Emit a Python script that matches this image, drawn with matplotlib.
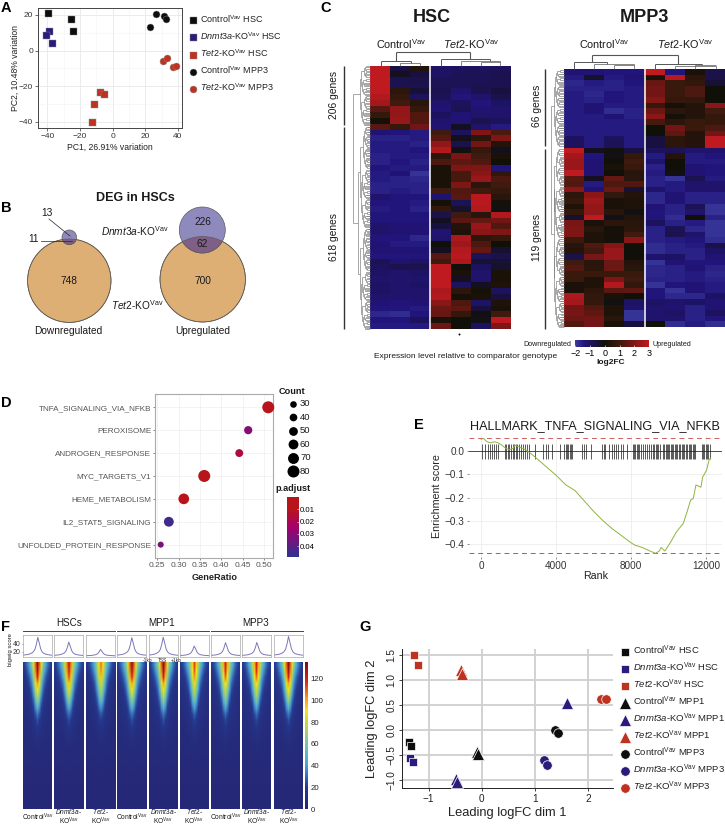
import numpy as np
import matplotlib
matplotlib.use("Agg")
import matplotlib.pyplot as plt
from matplotlib.patches import Circle
from matplotlib.collections import LineCollection
from matplotlib.colors import LinearSegmentedColormap, Normalize
from matplotlib.cm import ScalarMappable

plt.rcParams.update({
    "font.family": ["Liberation Sans", "DejaVu Sans"],
    "mathtext.fontset": "custom",
    "mathtext.rm": "Liberation Sans",
    "mathtext.it": "Liberation Sans:italic",
    "mathtext.bf": "Liberation Sans:bold",
    "axes.linewidth": 0.7,
    "xtick.major.width": 0.5, "ytick.major.width": 0.5,
    "xtick.major.size": 2, "ytick.major.size": 2,
    "xtick.major.pad": 1.5, "ytick.major.pad": 1.5,
})

W, H = 725, 826
BLACK, BLUE, RED = "#0d0d0d", "#2b1b7c", "#bd3320"
CTRL = r"Control$^{\mathrm{Vav}}$"
DN = r"$\mathit{Dnmt3a}$-KO$^{\mathrm{Vav}}$"
TET = r"$\mathit{Tet2}$-KO$^{\mathrm{Vav}}$"

# ---- Panel A data
a_ctrl_hsc = ([-39.5, -25.5, -24.5], [21, 18, 11])
a_dn_hsc = ([-39, -40.5, -37], [11, 9, 4])
a_tet_hsc = ([-8, -5, -11.5, -12.5], [-23.5, -24.5, -30, -40])
a_ctrl_mpp3 = ([26.5, 31.5, 32.5, 23], [20.5, 19.5, 18, 13])
a_tet_mpp3 = ([31, 33.5, 37, 39], [-6, -4, -9, -8.5])

# ---- Panel B data
venn_down = ["13", "11", "748"]
venn_up = ["226", "62", "700"]

# ---- Panel C data
hsc_rows = [
    [3, -0.6, 0.4, -1.1, -1.0, -1.0, -1.0],
    [3, -0.3, -0.6, -1.1, -0.9, -0.9, -0.8],
    [3, -0.8, -0.7, -0.9, -0.9, -0.9, -0.8],
    [3, -0.8, -0.8, -0.9, -0.9, -0.8, -0.8],
    [3, 0.6, -0.5, -0.8, -1.2, -0.8, -0.6],
    [2.8, 0.8, -1.0, -0.9, -1.4, -1.2, -0.7],
    [2.6, 1.0, 0.5, -1.2, -1.0, -1.4, -1.1],
    [1.4, 2.3, 0.8, -1.3, -0.9, -1.3, -1.2],
    [0.8, 2.3, 1.3, -1.0, -1.3, -1.2, -1.2],
    [0.1, 2.4, 1.3, -1.2, -1.3, -0.8, -1.0],
    [1.4, 0.8, 1.8, -1.3, -0.3, -1.2, -1.5],
    [-1.3, -1.4, -1.5, 1.0, -1.0, 2.0, 1.2],
    [-1.6, -1.6, -1.5, 1.4, -0.2, 0.6, 2.0],
    [-1.5, -1.5, -1.6, 2.3, -0.7, 1.8, 0.4],
    [-1.5, -1.5, -1.4, 2.8, -0.1, 0.8, -0.2],
    [-1.6, -1.5, -1.5, 0.6, 1.9, 1.0, 0.2],
    [-1.6, -1.4, -1.6, 1.2, 1.5, 1.3, 0.0],
    [-1.4, -1.5, -1.5, 0.2, 2.0, 2.0, -1.4],
    [-1.5, -1.3, -1.9, 0.2, 1.1, 2.2, 0.7],
    [-1.5, -1.6, -1.7, 0.2, 1.1, 2.4, 1.2],
    [-1.6, -1.6, -1.6, 0.2, 2.0, 0.6, 1.0],
    [-1.6, -1.5, -1.6, 1.0, 1.3, 1.0, 0.8],
    [-1.2, -1.4, -1.4, -1.2, 1.4, 2.9, 0.5],
    [-1.4, -1.4, -1.5, 0.1, -0.9, 2.9, 0.1],
    [-1.5, -1.4, -1.6, 0.7, -0.4, 2.8, -0.1],
    [-1.4, -1.4, -1.4, -0.7, 1.0, 0.5, 2.8],
    [-1.4, -1.4, -1.4, -0.3, 1.4, 1.6, 1.8],
    [-1.2, -1.3, -1.3, -0.6, 0.4, 2.4, 1.3],
    [-1.2, -1.3, -1.3, -1.3, 0.3, 2.2, 2.0],
    [-1.4, -1.4, -1.7, -1.2, 2.7, 0.6, 0.8],
    [-1.3, -1.5, -1.5, 0.0, 2.5, 1.2, 0.0],
    [-1.3, -1.3, -1.3, -0.3, 2.8, 1.6, -0.4],
    [-1.4, -1.4, -1.4, 1.4, 2.9, -0.9, -0.7],
    [-0.9, -1.2, -1.1, 1.0, 2.7, -0.5, -0.5],
    [-1.0, -0.8, -0.8, 3, 0, -1.0, -0.4],
    [-1.1, -1.2, -1.1, 3, 0.2, -1.2, 0.2],
    [-1.2, -1.2, -1.2, 3, -0.3, -1.2, 0.2],
    [-1.1, -1.2, -1.1, 3, -1.0, -0.3, 0.3],
    [-1.1, -1.2, -1.2, 2.7, 0.6, 0.1, -1.0],
    [-1.2, -1.2, -1.2, 2.8, 0.1, 0.2, -0.6],
    [-1.3, -1.4, -1.3, 2.2, 1.2, -1.1, 0.3],
    [-1.4, -1.4, -1.5, 1.7, 1.5, -0.6, 0.2],
    [-1.7, -1.8, -1.4, 1.6, 0.7, -0.1, 1.0],
    [-1.4, -1.4, -1.0, 0.2, 0.0, -0.2, 3.0],
    [-1.5, -1.5, -1.5, 1.7, 0.0, -1.0, 2.0],
]
mpp3_rows = [
    [-1.3, -1.3, -1.4, -1.4, 3, -1.4, 0.2, -0.7],
    [-1.5, -0.4, -1.5, -1.3, 0.2, 2.9, 0.6, -0.7],
    [-1.7, -1.5, -1.6, -1.4, 1.6, 0.9, 0.7, -0.5],
    [-1.6, -1.6, -1.6, -1.5, 1.8, 0.9, 1.2, 0.0],
    [-1.5, -1.7, -1.4, -1.5, 1.8, 0.9, 1.2, 0.0],
    [-1.5, -1.6, -1.4, -1.5, 2.1, 0.8, 0.7, 0.0],
    [-1.5, -1.3, -1.5, -1.5, 0.8, 0.1, 0.4, 2.2],
    [-1.5, -1.3, -1.8, -1.6, 1.7, 0.6, 0.4, 1.0],
    [-1.5, -1.5, -1.3, -1.6, 2.2, 0.1, 0.4, 0.8],
    [-1.5, -1.5, -1.5, -1.5, 1.1, 0.6, 0.9, 0.8],
    [-1.5, -1.5, -1.5, -1.5, 0.0, 1.8, 0.9, 1.2],
    [-1.5, -1.5, -1.5, -1.5, 0.0, 1.5, 0.4, 1.8],
    [-1.0, -1.5, -1.0, -1.5, -0.6, 0.6, 0.4, 3.0],
    [-1.0, -1.5, -0.9, -1.5, -0.6, 0.6, 0.4, 3.0],
    [3, -0.3, -0.1, -0.6, -1.0, -0.9, -1.2, -1.2],
    [2.6, -1.4, -0.1, 0.8, -1.5, 0.4, -1.5, -1.4],
    [2.4, -1.3, 0.0, 1.0, -1.2, 0.0, -1.5, -1.5],
    [2.4, -1.3, 0.2, 0.9, -1.6, 0.0, -1.3, -1.4],
    [3, -1.3, 0.0, 0.5, -1.5, -0.1, -1.3, -1.4],
    [1.4, -0.3, 1.6, 0.5, -1.6, -1.9, -0.8, -1.5],
    [1.3, -1.5, 1.2, 1.3, -1.6, -1.5, -1.2, -1.2],
    [2.2, -1.3, 1.7, -0.5, -1.2, -1.5, -1.2, -1.2],
    [0.6, 2.2, 0.7, 0.4, -1.7, -1.3, -1.6, -1.6],
    [0.8, 2.5, 0.2, 0.3, -1.7, -1.3, -1.6, -1.6],
    [0.3, 2.3, 0.2, 0.3, -1.3, -1.6, -0.9, -1.9],
    [0.8, 2.3, 0.5, -0.1, -1.4, -1.6, -1.2, -1.9],
    [-0.4, 3, -0.2, 0.4, -1.4, -1.8, 0.0, -1.6],
    [1.9, 0.2, 0.6, 0.5, -1.0, -1.6, -1.5, -1.9],
    [2.0, 0.5, 0.1, 0.6, -1.6, -0.9, -1.7, -1.9],
    [2.0, 0.3, 0.1, 1.0, -1.6, -0.8, -1.2, -1.9],
    [0.9, 0.3, 0.1, 2.2, -1.6, -1.5, -1.4, -1.8],
    [0.5, 1.3, 2.1, 0.0, -1.8, -1.6, -1.5, -0.7],
    [0.4, 1.0, 2.4, 0.0, -1.8, -1.6, -1.6, -1.1],
    [-0.7, 1.9, 2.4, 0.0, -1.2, -1.1, -1.6, -1.3],
    [1.0, 0.5, 1.7, 0.4, -1.9, -1.3, -1.4, -1.4],
    [1.3, 0.6, 1.7, 0.5, -1.7, -1.6, -1.3, -1.6],
    [0.9, 0.9, 0.9, 0.9, -1.7, -1.6, -1.5, -1.7],
    [0.9, 0.3, 2.0, 1.0, -1.6, -1.6, -1.5, -1.6],
    [0.2, 0.3, 2.8, 0.7, -1.9, -1.4, -1.3, -1.5],
    [0.2, 0.6, 1.4, 1.5, -1.4, -1.9, -1.3, -1.5],
    [2.7, 0.7, 0.2, 0.0, -1.4, -1.7, -1.7, -1.1],
    [2.6, 0.8, -0.1, -1.1, -1.1, -1.2, -1.1, -1.3],
    [1.8, 1.3, 0.3, -1.2, -1.2, -1.3, -1.6, -1.3],
    [1.9, 1.5, 0.3, -1.9, -1.2, -1.1, -1.6, -1.0],
    [1.7, 1.8, 0.5, -1.9, -1.2, -1.2, -1.6, -1.4],
    [1.3, 1.8, 0.2, -0.6, 0.0, -1.8, -1.5, -1.8],
]

# ---- Panel D data
d_terms = ["TNFA_SIGNALING_VIA_NFKB", "PEROXISOME", "ANDROGEN_RESPONSE", "MYC_TARGETS_V1",
           "HEME_METABOLISM", "IL2_STAT5_SIGNALING", "UNFOLDED_PROTEIN_RESPONSE"]
d_ratio = [0.510, 0.463, 0.442, 0.360, 0.312, 0.277, 0.258]
d_count = [80, 45, 42, 80, 68, 60, 25]
d_padj = [0.006, 0.031, 0.018, 0.006, 0.009, 0.045, 0.034]
d_legend_counts = [30, 40, 50, 60, 70, 80]

# ---- Panel E data
e_rank = [0, 100, 300, 500, 700, 900, 1100, 1300, 1500, 1700, 1800, 2000, 2300, 2600, 3000,
          3500, 4000, 4500, 5000, 5500, 6000, 6500, 7000, 7500, 8000, 8200, 8600, 9000, 9300,
          9500, 9600, 9800, 10070, 10427, 10783, 10961, 11174, 11316, 11459, 11726, 11815,
          12028, 12170, 12250]
e_score = [0.05, 0.055, 0.04, 0.035, 0.04, 0.035, 0.025, 0.012, 0.005, 0.012, 0.025, 0.018,
           0.008, -0.008, -0.035, -0.07, -0.105, -0.145, -0.17, -0.215, -0.26, -0.3, -0.335,
           -0.365, -0.395, -0.405, -0.415, -0.43, -0.44, -0.43, -0.415, -0.43, -0.397, -0.347,
           -0.311, -0.268, -0.211, -0.204, -0.146, -0.156, -0.113, -0.082, -0.036, -0.03]
e_hits = [53, 196, 374, 463, 552, 659, 783, 872, 1264, 1335, 1406, 1495, 1584, 1673, 1744, 1833,
          1922, 2029, 2118, 2225, 2332, 2421, 2563, 2884, 3311, 3453, 3578, 3756, 4201, 4432,
          4503, 4575, 4646, 4717, 4788, 4859, 5358, 5482, 5589, 5838, 6461, 6533, 6604, 6835,
          6960, 7067, 7191, 7316, 7440, 7583, 7761, 8117, 8170, 8224, 8295, 8366, 8437, 8544,
          8651, 8740, 8847, 8953, 9060, 9185, 9238, 9309, 9381, 9452, 9523, 9719, 9772, 9843,
          9897, 9968, 10039, 10110, 10182, 10253, 10324, 10395, 10466, 10538, 10609, 10698,
          10769, 10840, 10929, 11000, 11072, 11143, 11214, 11285, 11356, 11428, 11766, 11837,
          11908, 11979, 12051, 12122, 12193]

# ---- Panel F data
f_groups = ["HSCs", "MPP1", "MPP3"]
f_peak = [55.8, 44, 25.6, 55, 56, 34, 42.5, 43, 58]
f_gain = [1.0, 0.95, 0.8, 1.0, 1.0, 0.85, 0.9, 0.9, 1.0]
f_profile = [0.05, 0.06, 0.07, 0.08, 0.10, 0.13, 0.17, 0.23, 0.35, 0.62, 1.0, 0.70, 0.38, 0.22,
             0.15, 0.11, 0.09, 0.07, 0.06, 0.05, 0.04]
f_map = [
    [20, 26, 34, 46, 62, 85, 110, 132, 110, 85, 62, 46, 34, 26, 20],
    [16, 22, 28, 38, 52, 78, 105, 128, 105, 78, 52, 38, 28, 22, 16],
    [14, 18, 23, 30, 42, 68, 98, 118, 98, 68, 42, 30, 23, 18, 14],
    [13, 15, 19, 25, 34, 56, 86, 100, 86, 56, 34, 25, 19, 15, 13],
    [12, 13, 16, 20, 28, 46, 74, 90, 74, 46, 28, 20, 16, 13, 12],
    [11, 12, 14, 17, 23, 36, 62, 78, 62, 36, 23, 17, 14, 12, 11],
    [10, 11, 13, 15, 19, 28, 48, 62, 48, 28, 19, 15, 13, 11, 10],
    [10, 10, 12, 13, 16, 22, 36, 46, 36, 22, 16, 13, 12, 10, 10],
    [9, 10, 11, 12, 14, 18, 26, 33, 26, 18, 14, 12, 11, 10, 9],
    [9, 9, 10, 11, 12, 15, 20, 25, 20, 15, 12, 11, 10, 9, 9],
    [9, 9, 9, 10, 11, 13, 16, 19, 16, 13, 11, 10, 9, 9, 9],
    [8, 9, 9, 9, 10, 11, 13, 15, 13, 11, 10, 9, 9, 9, 8],
    [8, 8, 8, 9, 9, 10, 11, 12, 11, 10, 9, 9, 8, 8, 8],
    [8, 8, 8, 8, 8, 9, 9, 10, 9, 9, 8, 8, 8, 8, 8],
    [7, 7, 8, 8, 8, 8, 8, 9, 8, 8, 8, 8, 8, 7, 7],
    [7, 7, 7, 7, 7, 7, 8, 8, 8, 7, 7, 7, 7, 7, 7],
    [7, 7, 7, 7, 7, 7, 7, 7, 7, 7, 7, 7, 7, 7, 7],
    [6, 6, 6, 6, 6, 6, 7, 7, 7, 6, 6, 6, 6, 6, 6],
    [6, 6, 6, 6, 6, 6, 6, 6, 6, 6, 6, 6, 6, 6, 6],
    [6, 6, 6, 6, 6, 6, 6, 6, 6, 6, 6, 6, 6, 6, 6],
    [5, 5, 5, 5, 5, 5, 5, 5, 5, 5, 5, 5, 5, 5, 5],
    [5, 5, 5, 5, 5, 5, 5, 5, 5, 5, 5, 5, 5, 5, 5],
    [5, 5, 5, 5, 5, 5, 5, 5, 5, 5, 5, 5, 5, 5, 5],
    [5, 5, 5, 5, 5, 5, 5, 5, 5, 5, 5, 5, 5, 5, 5],
]

# ---- Panel G data
g_ctrl_hsc = ([-1.365, -1.327], [-0.25, -0.326])
g_dn_hsc = ([-1.346, -1.296], [-0.56, -0.65])
g_tet_hsc = ([-1.27, -1.21], [1.50, 1.30])
g_ctrl_mpp1 = ([-0.094, -0.075], [-0.445, -0.485])
g_dn_mpp1 = ([-0.478, -0.47, 1.61], [-0.99, -1.05, 0.525])
g_tet_mpp1 = ([-0.384, -0.365], [1.20, 1.11])
g_ctrl_mpp3 = ([1.38, 1.44], [0.0, -0.06])
g_dn_mpp3 = ([1.17, 1.23], [-0.61, -0.705])
g_tet_mpp3 = ([2.24, 2.345], [0.605, 0.62])

fig = plt.figure(figsize=(W / 100, H / 100), dpi=100, facecolor="white")


def axpx(x0, y0, x1, y1, **kw):
    return fig.add_axes([x0 / W, 1 - y1 / H, (x1 - x0) / W, (y1 - y0) / H], **kw)


def size(d):
    return (d * 0.72) ** 2


ov = fig.add_axes([0, 0, 1, 1], zorder=10)
ov.set_xlim(0, W)
ov.set_ylim(H, 0)
ov.axis("off")
ov.patch.set_alpha(0)


def T(x, y, s, fs=7, ha="center", va="center", **kw):
    return ov.text(x, y, s, fontsize=fs, ha=ha, va=va, color=kw.pop("color", "#1a1a1a"), **kw)


for lab, x, y in [("A", 6, 8), ("B", 6, 208), ("C", 326, 8), ("D", 6, 403),
                  ("E", 419, 425), ("F", 6, 627), ("G", 365, 627)]:
    T(x, y, lab, fs=10.5, fontweight="bold", color="black")

# ---------------- A
ax = axpx(38, 8, 181.7, 128)
ax.set_xlim(-45.7, 42.3)
ax.set_ylim(-43.5, 23.9)
ax.set_xticks([-40, -20, 0, 20, 40])
ax.set_yticks([-40, -20, 0, 20])
ax.set_xticks([-30, -10, 10, 30], minor=True)
ax.set_yticks([-30, -10, 10], minor=True)
ax.grid(True, which="major", color="#ebebeb", lw=0.7)
ax.grid(True, which="minor", color="#f3f3f3", lw=0.4)
ax.tick_params(which="minor", length=0)
ax.set_axisbelow(True)
ax.tick_params(labelsize=6, colors="#333333")
for sp in ax.spines.values():
    sp.set_color("#444444")
for (xy, c, m, lab) in [(a_ctrl_hsc, BLACK, "s", CTRL + " HSC"),
                        (a_dn_hsc, BLUE, "s", DN + " HSC"),
                        (a_tet_hsc, RED, "s", TET + " HSC"),
                        (a_ctrl_mpp3, BLACK, "o", CTRL + " MPP3"),
                        (a_tet_mpp3, RED, "o", TET + " MPP3")]:
    ax.scatter(*xy, s=size(7), c=c, marker=m, edgecolors="#8a8a8a", linewidths=0.3, label=lab, zorder=3)
ax.set_xlabel("PC1, 26.91% variation", fontsize=6.2, labelpad=2, color="#222222")
ax.set_ylabel("PC2, 10.48% variation", fontsize=6.2, labelpad=-0.5, color="#222222")
ax.legend(loc="upper left", bbox_to_anchor=(187, 13), bbox_transform=ov.transData, frameon=False,
          fontsize=6.5, labelspacing=0.6, handletextpad=0.05, handlelength=1.4, borderpad=0,
          borderaxespad=0, scatterpoints=1, labelcolor="#222222")

# ---------------- B
T(135, 198, "DEG in HSCs", fs=9, fontweight="bold")
ORANGE, PURP, OVER = "#ddaf75", "#8f8abd", "#7f5f86"
EDGE = "#5f5a55"


def venn(cb, rb, cs, rs):
    big = Circle(cb, rb, fc=ORANGE, ec=EDGE, lw=0.5)
    ov.add_patch(big)
    ov.add_patch(Circle(cs, rs, fc=PURP, ec=EDGE, lw=0.5))
    over = Circle(cs, rs, fc=OVER, ec=EDGE, lw=0.5)
    ov.add_patch(over)
    over.set_clip_path(big)
    ov.add_patch(Circle(cb, rb, fc="none", ec=EDGE, lw=0.5))


venn((69.3, 280.7), 41.7, (69.3, 237.3), 7.3)
venn((202.7, 279.3), 42.7, (202.3, 230), 23)
T(47, 213, venn_down[0], fs=7.3)
T(34, 239, venn_down[1], fs=7.3)
T(69.3, 281.5, venn_down[2], fs=7.3)
ov.plot([49, 70], [219, 236], color="#222222", lw=0.5)
ov.plot([41, 72], [241, 241], color="#222222", lw=0.5)
T(202.5, 222, venn_up[0], fs=7.3)
T(202.5, 244, venn_up[1], fs=7.3)
T(202.5, 281.5, venn_up[2], fs=7.3)
T(135, 231, DN, fs=7.3)
T(137, 305, TET, fs=7.3)
T(68, 331, "Downregulated", fs=7.3)
T(202.7, 331, "Upregulated", fs=7.3)

# ---------------- C
hm_cmap = LinearSegmentedColormap.from_list("hm", [
    (0.0, "#3a3a9c"), (0.12, "#21147a"), (0.26, "#1a1248"), (0.4, "#111008"),
    (0.6, "#3f1a0e"), (0.8, "#7e1616"), (1.0, "#be1a20")])
hm_norm = Normalize(-2, 3)


def heat(rows, x0, y0, x1, y1, ngap):
    m = np.array(rows, float)
    a = axpx(x0, y0, x1, y1)
    a.imshow(m, cmap=hm_cmap, norm=hm_norm, aspect="auto", interpolation="nearest")
    a.axvline(ngap - 0.5, color="white", lw=1.1)
    a.set_xticks([])
    a.set_yticks([])
    for sp in a.spines.values():
        sp.set_visible(False)
    return m


heat(hsc_rows, 370, 66, 510, 329, 3)
heat(mpp3_rows, 564, 69, 725, 327, 4)


def row_tree(lo, hi, right, left, out, depth=0):
    """Decorative row dendrogram between leaf rows lo..hi, in pixel coordinates."""
    if hi - lo <= 2.5:
        y = (lo + hi) / 2
        x = right - 3 - (depth % 3)
        out.append([(right, lo), (x, lo)])
        out.append([(right, hi), (x, hi)])
        out.append([(x, lo), (x, hi)])
        return x, y
    mid = lo + (hi - lo) * (0.5 if depth % 2 == 0 else 0.42)
    xa, ya = row_tree(lo, mid - 0.8, right, left, out, depth + 1)
    xb, yb = row_tree(mid + 0.8, hi, right, left, out, depth + 1)
    x = min(xa, xb) - max(1.0, (right - left) * 0.09 * (hi - lo) / 130)
    x = max(x, left)
    out.append([(xa, ya), (x, ya)])
    out.append([(xb, yb), (x, yb)])
    out.append([(x, ya), (x, yb)])
    return x, (ya + yb) / 2


for (ra, rb, right, left, rootx) in [((66, 125), (127, 329), 370, 353, 353),
                                     ((70, 146), (149, 327), 564, 551, 551)]:
    segs = []
    xa, ya = row_tree(ra[0], ra[1], right, left + 3, segs)
    xb, yb = row_tree(rb[0], rb[1], right, left + 3, segs)
    segs += [[(xa, ya), (rootx, ya)], [(xb, yb), (rootx, yb)], [(rootx, ya), (rootx, yb)]]
    ov.add_collection(LineCollection(segs, colors="#777777", linewidths=0.45))

col_tree = [
    (396, 52.3, 470, 52.3, 0.8), (396, 52.3, 396, 61, 0.8), (470, 52.3, 470, 59, 0.8),
    (380.7, 61, 411, 61, 0.7), (380.7, 61, 380.7, 66, 0.7), (411, 61, 411, 63, 0.7),
    (400, 63, 420, 63, 0.5), (400, 63, 400, 66, 0.5), (420, 63, 420, 66, 0.5),
    (441, 59, 490, 59, 0.7), (441, 59, 441, 66, 0.7), (490, 59, 490, 61, 0.7),
    (461, 61, 500, 61, 0.5), (461, 61, 461, 66, 0.5), (500, 61, 500, 66, 0.5),
    (481, 61.5, 500, 61.5, 0.5), (481, 61.5, 481, 66, 0.5),
    (591.7, 55, 677.7, 55, 0.8), (591.7, 55, 591.7, 62, 0.8), (677.7, 55, 677.7, 64, 0.8),
    (574, 62, 606.7, 62, 0.7), (574, 62, 574, 69, 0.7), (606.7, 62, 606.7, 64, 0.7),
    (594, 64, 634, 64, 0.5), (594, 64, 594, 69, 0.5), (634, 64, 634, 69, 0.5),
    (614, 65, 634, 65, 0.5), (614, 65, 614, 69, 0.5),
    (655, 64, 702, 64, 0.7), (655, 64, 655, 69, 0.7), (702, 64, 702, 65, 0.5),
    (675, 66, 716, 66, 0.5), (675, 66, 675, 69, 0.5), (716, 66, 716, 69, 0.5),
    (695, 65, 716, 65, 0.5), (695, 65, 695, 69, 0.5),
]
for x0, y0, x1, y1, w in col_tree:
    ov.plot([x0, x1], [y0, y1], color="#555555", lw=w, solid_capstyle="butt")

T(432, 17, "HSC", fs=13, fontweight="bold")
T(644, 17, "MPP3", fs=13, fontweight="bold")
T(401, 44, CTRL, fs=7.8)
T(471, 44, TET, fs=7.8)
T(604, 44, CTRL, fs=7.8)
T(685, 44, TET, fs=7.8)
for x, y0, y1 in [(344, 66, 125), (344, 127, 329), (545.3, 69, 146), (545.3, 149, 329)]:
    ov.plot([x, x], [y0, y1], color="#333333", lw=1.0, solid_capstyle="butt")
T(334, 95, "206 genes", fs=7.4, rotation=90)
T(334, 237, "618 genes", fs=7.4, rotation=90)
T(537, 106, "66 genes", fs=7.4, rotation=90)
T(537, 237, "119 genes", fs=7.4, rotation=90)
ov.scatter([458.7], [334], s=2, c="black", marker="o", linewidths=0)
T(373.7, 357, "Expression level relative to comparator genotype", fs=6, ha="left")
T(571, 344, "Downregulated", fs=5.1, ha="right")
T(653, 344, "Upregulated", fs=5.1, ha="left")
cax = axpx(575.3, 340, 649, 347)
cb = fig.colorbar(ScalarMappable(hm_norm, hm_cmap), cax=cax, orientation="horizontal")
cb.outline.set_visible(False)
cb.set_ticks([-2, -1, 0, 1, 2, 3])
cb.ax.tick_params(labelsize=6.5, length=1.5, width=0.4, pad=1.5, direction="in", color="white")
T(611, 362, "log2FC", fs=6, fontweight="bold")

# ---------------- D
padj_cmap = LinearSegmentedColormap.from_list("padj", [
    (0.0, "#b8141c"), (0.2, "#b8141c"), (0.5, "#a5006a"), (1.0, "#2e3192")])
padj_norm = Normalize(0.0002, 0.0487)
ax = axpx(155.3, 394, 273.3, 557.7)
ax.set_xlim(0.2453, 0.5218)
ax.set_ylim(0.43, 7.58)
ypos = np.arange(len(d_terms), 0, -1)


def csize(c):
    return size(2 * (3.3 + (np.asarray(c, float) - 30) * 0.054))


ax.scatter(d_ratio, ypos, s=csize(d_count), c=d_padj, cmap=padj_cmap, norm=padj_norm,
           linewidths=0, zorder=3, clip_on=False)
ax.set_yticks(ypos)
ax.set_yticklabels(d_terms, fontsize=5.85, color="#222222")
ax.set_xticks([0.25, 0.30, 0.35, 0.40, 0.45, 0.50])
ax.set_xticklabels(["0.25", "0.30", "0.35", "0.40", "0.45", "0.50"], fontsize=6, color="#222222")
ax.grid(True, color="#eeeeee", lw=0.5)
ax.set_axisbelow(True)
for sp in ax.spines.values():
    sp.set_color("#aaaaaa")
    sp.set_linewidth(0.8)
ax.tick_params(colors="#555555", length=1.5)
ax.set_xlabel("GeneRatio", fontsize=6.6, fontweight="bold", labelpad=3, color="#222222")
T(292, 392, "Count", fs=6.6, fontweight="bold")
for i, c in enumerate(d_legend_counts):
    y = 404 + i * 13.4
    ov.scatter([292.7], [y], s=csize(c), c="black", linewidths=0)
    T(300, y, str(c), fs=6.8, ha="left")
T(293, 488.7, "p.adjust", fs=6.6, fontweight="bold")
cax = axpx(286.7, 497.3, 299, 556.7)
cb = fig.colorbar(ScalarMappable(padj_norm, padj_cmap), cax=cax)
cb.outline.set_visible(False)
cb.set_ticks([0.01, 0.02, 0.03, 0.04])
cb.ax.invert_yaxis()
cb.ax.tick_params(labelsize=5.6, length=1.5, width=0.4, pad=0.8, direction="in", color="white")

# ---------------- E
ax = axpx(469, 436, 722, 556.7)
ax.set_xlim(-657, 12850)
ax.set_ylim(-0.4546, 0.0645)
for sp in ax.spines.values():
    sp.set_visible(False)
ax.grid(True, color="#ececec", lw=0.6)
ax.set_axisbelow(True)
ax.axhline(0, color="#333333", lw=0.6)
ax.axhline(0.0545, color="#d0605f", lw=0.7, dashes=(5, 4))
ax.axhline(-0.44, color="#b85550", lw=0.7, dashes=(5, 4))
ax.vlines(e_hits, -0.034, 0.029, color="#222222", lw=0.7, alpha=0.75)
ax.plot(e_rank, e_score, color="#8db53f", lw=0.7)
ax.set_xticks([0, 4000, 8000, 12000])
ax.set_xticklabels(["0", "4000", "8000", "12000"])
ax.set_yticks([0, -0.1, -0.2, -0.3, -0.4])
ax.tick_params(labelsize=7.2, colors="#333333", length=1.5, width=0.4)
ax.set_xlabel("Rank", fontsize=7.7, labelpad=0, color="#222222")
ax.set_ylabel("Enrichment score", fontsize=7.7, labelpad=2, color="#222222")
T(470, 426, "HALLMARK_TNFA_SIGNALING_VIA_NFKB", fs=9.1, ha="left")

# ---------------- F
f_cmap = LinearSegmentedColormap.from_list("f", [
    (0.0, "#26236f"), (0.15, "#25398f"), (0.3, "#4aa3dc"), (0.45, "#7cc7a0"),
    (0.6, "#c8da3a"), (0.67, "#f3e51c"), (0.75, "#f6a01e"), (0.87, "#d9261c"), (1.0, "#7d0f0f")])
f_norm = Normalize(0, 135)
f_left = [23.3, 54.3, 86, 117.3, 148.7, 179.7, 211, 242.3, 274]
f_wid = 29
prof = np.array(f_profile)
fx = np.linspace(-1, 1, len(prof))
tmpl = np.array(f_map, float)
for i, x0 in enumerate(f_left):
    a = axpx(x0, 635, x0 + f_wid, 657.3)
    a.plot(fx, 9 + (f_peak[i] - 9) * prof, color="#7b78b8", lw=0.7)
    a.set_xlim(-1, 1)
    a.set_ylim(5.8, 61.7)
    a.set_xticks([])
    if i == 0:
        a.set_yticks([20, 40])
        a.tick_params(axis="y", labelsize=5, length=1, width=0.4, pad=1, colors="#333333")
    else:
        a.set_yticks([])
    for sp in a.spines.values():
        sp.set_color("#aaaaaa")
        sp.set_linewidth(0.5)
    h = axpx(x0, 662.3, x0 + f_wid, 809.3)
    h.imshow(5 + (tmpl - 5) * f_gain[i], cmap=f_cmap, norm=f_norm, aspect="auto", interpolation="bilinear")
    h.set_xticks([])
    h.set_yticks([])
    for sp in h.spines.values():
        sp.set_visible(False)
cax = axpx(305, 662.3, 308.3, 809.3)
cb = fig.colorbar(ScalarMappable(f_norm, f_cmap), cax=cax)
cb.outline.set_visible(False)
cb.set_ticks([0, 20, 40, 60, 80, 100, 120])
cb.ax.tick_params(labelsize=5.6, length=0, pad=1.5, colors="#222222")
for name, cx, x0, x1 in [(f_groups[0], 69, 23.3, 115), (f_groups[1], 162, 117.3, 209),
                         (f_groups[2], 256, 211, 303)]:
    T(cx, 623, name, fs=7.1)
    ov.plot([x0, x1], [631, 631], color="#444444", lw=0.7)
T(11, 650, "bigwig score", fs=4.2, rotation=90)
for x, s in [(148, "-1kb"), (162, "TSS"), (176, "+1kb")]:
    T(x, 660, s, fs=3.4)
for i, x0 in enumerate(f_left):
    cx = x0 + f_wid / 2
    k = i % 3
    if k == 0:
        T(cx, 817, CTRL, fs=4.8)
    elif k == 1:
        T(cx, 812, r"$\mathit{Dnmt3a}$-", fs=4.8)
        T(cx, 821.5, r"KO$^{\mathrm{Vav}}$", fs=4.8)
    else:
        T(cx, 812, r"$\mathit{Tet2}$-", fs=4.8)
        T(cx, 821.5, r"KO$^{\mathrm{Vav}}$", fs=4.8)

# ---------------- G
ax = axpx(401.7, 649.3, 612.7, 788.3)
ax.set_xlim(-1.509, 2.47)
ax.set_ylim(-1.17, 1.605)
ax.set_xticks([-1, 0, 1, 2])
ax.set_yticks([-1.0, -0.5, 0.0, 0.5, 1.0, 1.5])
ax.grid(True, color="#cfcfcf", lw=1.3)
ax.set_axisbelow(True)
ax.spines["top"].set_visible(False)
ax.spines["right"].set_visible(False)
ax.spines["left"].set_color("#222222")
ax.spines["bottom"].set_color("#222222")
ax.tick_params(labelsize=7.2, colors="#222222", length=2.5, width=0.6)
for t in ax.get_yticklabels():
    t.set_rotation(90)
    t.set_va("center")
for (xy, c, m, d, lab) in [(g_ctrl_hsc, BLACK, "s", 8, CTRL + " HSC"),
                           (g_dn_hsc, BLUE, "s", 8, DN + " HSC"),
                           (g_tet_hsc, RED, "s", 8, TET + " HSC"),
                           (g_ctrl_mpp1, BLACK, "^", 12, CTRL + " MPP1"),
                           (g_dn_mpp1, BLUE, "^", 12, DN + " MPP1"),
                           (g_tet_mpp1, RED, "^", 12, TET + " MPP1"),
                           (g_ctrl_mpp3, BLACK, "o", 9.5, CTRL + " MPP3"),
                           (g_dn_mpp3, BLUE, "o", 9.5, DN + " MPP3"),
                           (g_tet_mpp3, RED, "o", 9.5, TET + " MPP3")]:
    ax.scatter(*xy, s=size(d), c=c, marker=m, edgecolors="white", linewidths=0.5, label=lab, zorder=3)
ax.set_xlabel("Leading logFC dim 1", fontsize=9.3, labelpad=2, color="#222222")
ax.set_ylabel("Leading logFC dim 2", fontsize=9.3, labelpad=6, color="#222222")
ax.legend(loc="upper left", bbox_to_anchor=(620, 643.5), bbox_transform=ov.transData, frameon=False,
          fontsize=6.8, labelspacing=0.4, handletextpad=0.25, handlelength=1.1, borderpad=0,
          borderaxespad=0, scatterpoints=1, labelcolor="#222222")

fig.savefig("out.png", dpi=100)
